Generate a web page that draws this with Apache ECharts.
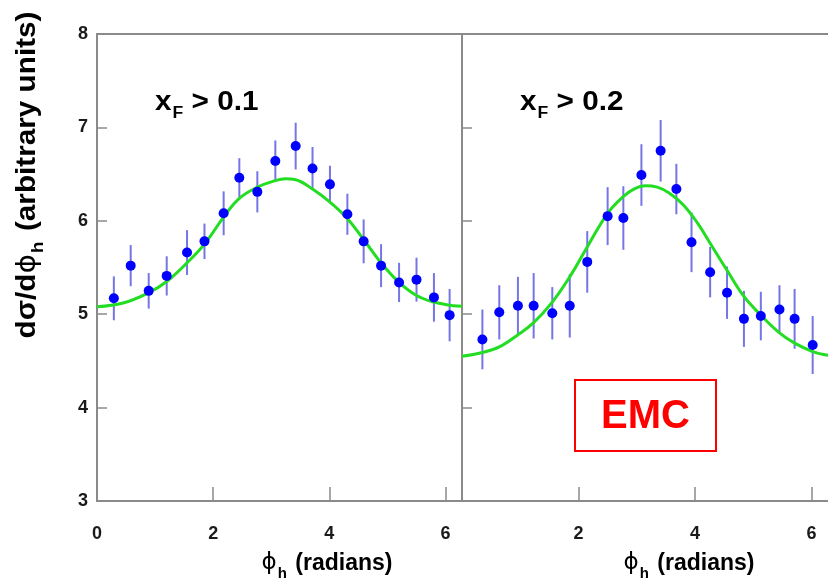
<!DOCTYPE html>
<html>
<head>
<meta charset="utf-8">
<script src="https://cdn.jsdelivr.net/npm/echarts@6/dist/echarts.min.js"></script>
<style>html,body{margin:0;padding:0;background:#fff}#c{width:828px;height:583px}</style>
</head>
<body>
<div id="c"></div>
<script>
// ---- data ----
const yTicks = [3, 4, 5, 6, 7, 8];
const xTicks = [0, 2, 4, 6];

const leftX   = [0.29,0.58,0.89,1.20,1.55,1.85,2.18,2.45,2.76,3.07,3.42,3.71,4.01,4.31,4.59,4.89,5.20,5.50,5.80,6.07];
const leftY   = [5.17,5.52,5.25,5.41,5.66,5.78,6.08,6.46,6.31,6.64,6.80,6.56,6.39,6.07,5.78,5.52,5.34,5.37,5.18,4.99];
const leftErr = [0.235,0.22,0.19,0.21,0.24,0.19,0.235,0.21,0.22,0.22,0.25,0.23,0.20,0.22,0.235,0.23,0.21,0.235,0.26,0.28];

const rightX   = [0.35,0.64,0.96,1.23,1.55,1.85,2.15,2.50,2.77,3.08,3.41,3.68,3.94,4.26,4.55,4.84,5.13,5.45,5.71,6.02];
const rightY   = [4.73,5.02,5.09,5.09,5.01,5.09,5.56,6.05,6.03,6.49,6.75,6.34,5.77,5.45,5.23,4.95,4.98,5.05,4.95,4.67];
const rightErr = [0.32,0.29,0.31,0.35,0.28,0.34,0.33,0.31,0.34,0.33,0.33,0.27,0.32,0.27,0.28,0.30,0.26,0.26,0.32,0.31];

const leftFitX = [0,0.45,0.89,1.20,1.55,1.85,2.18,2.45,2.76,3.07,3.24,3.42,3.71,4.01,4.30,4.59,4.89,5.20,5.50,5.80,6.14,6.2832];
const leftFitY = [5.08,5.12,5.23,5.35,5.55,5.75,6.04,6.24,6.36,6.43,6.45,6.44,6.34,6.20,6.03,5.80,5.55,5.34,5.20,5.13,5.09,5.085];

const rightFitX = [0,0.35,0.64,0.96,1.23,1.55,1.85,2.15,2.50,2.77,2.95,3.15,3.35,3.55,3.80,4.05,4.26,4.55,4.84,5.13,5.45,5.71,6.02,6.2832];
const rightFitY = [4.55,4.59,4.65,4.78,4.91,5.13,5.40,5.72,6.08,6.26,6.34,6.375,6.36,6.30,6.17,5.97,5.76,5.47,5.19,4.99,4.80,4.69,4.60,4.56];

const panelLabels = ['> 0.1', '> 0.2'];
// ---- end data ----

const FONT = '"Liberation Sans", Arial, sans-serif';
const AXIS = '#8a8a8a';
const TXT = '#1a1a1a';
const TWO_PI = 2 * Math.PI;

function pairs(xs, ys) { return xs.map((x, i) => [x, ys[i]]); }
function triples(xs, ys, es) { return xs.map((x, i) => [x, ys[i], es[i]]); }

function errorSeries(idx, data) {
  return {
    type: 'custom', xAxisIndex: idx, yAxisIndex: idx, data: data, z: 2, silent: true,
    encode: { x: 0, y: 1 },
    renderItem: function (params, api) {
      const x = api.value(0), y = api.value(1), e = api.value(2);
      const p1 = api.coord([x, y - e]);
      const p2 = api.coord([x, y + e]);
      return { type: 'line', shape: { x1: p1[0], y1: p1[1], x2: p2[0], y2: p2[1] },
               style: { stroke: '#7575e6', lineWidth: 2 } };
    }
  };
}

const lineStyleAxis = { color: AXIS, width: 2 };

function xAxis(idx, showMin, showLine) {
  return {
    type: 'value', gridIndex: idx, min: 0, max: TWO_PI, interval: 2, position: 'bottom',
    axisLine: { show: showLine, onZero: false, lineStyle: lineStyleAxis },
    axisTick: { show: true, inside: true, length: 14, lineStyle: { color: AXIS, width: 1.5 } },
    axisLabel: { show: true, margin: 24, showMinLabel: showMin, showMaxLabel: false,
      color: TXT, fontSize: 18, fontWeight: 'bold', fontFamily: FONT,
      formatter: v => xTicks.indexOf(v) >= 0 ? String(v) : '' },
    splitLine: { show: false }
  };
}
function topAxis(idx) {
  return {
    type: 'value', gridIndex: idx, min: 0, max: TWO_PI, position: 'top',
    axisLine: { show: true, onZero: false, lineStyle: lineStyleAxis },
    axisTick: { show: false }, axisLabel: { show: false }, splitLine: { show: false }
  };
}
function yAxis(idx, showLabels, showLine) {
  return {
    type: 'value', gridIndex: idx, min: yTicks[0], max: yTicks[yTicks.length - 1], interval: 1,
    axisLine: { show: showLine, onZero: false, lineStyle: lineStyleAxis },
    axisTick: { show: true, inside: true, length: 10, lineStyle: { color: AXIS, width: 1.5 } },
    axisLabel: { show: showLabels, margin: 9, color: TXT, fontSize: 18, fontWeight: 'bold', fontFamily: FONT },
    splitLine: { show: false }
  };
}

const chart = echarts.init(document.getElementById('c'), null, { renderer: 'canvas' });

const mainTok = { fontSize: 27, fontWeight: 'bold', fontFamily: FONT, color: TXT, lineHeight: 30, verticalAlign: 'top' };
const subTok = { fontSize: 16, fontWeight: 'bold', fontFamily: FONT, color: TXT, lineHeight: 16, verticalAlign: 'top', padding: [17, 0, 0, 1] };

const axTok = { fontSize: 23, fontWeight: 'bold', fontFamily: FONT, color: TXT, lineHeight: 26, verticalAlign: 'top' };
const axPhi = { fontSize: 23, fontWeight: 'normal', fontFamily: '"DejaVu Sans", ' + FONT, color: TXT, lineHeight: 26, verticalAlign: 'top' };
const axSub = { fontSize: 15, fontWeight: 'bold', fontFamily: FONT, color: TXT, lineHeight: 15, verticalAlign: 'top', padding: [14, 2, 0, 1] };

function xName(cx) {
  return { type: 'text', x: cx, y: 565, style: {
    text: '{p|ϕ}{s|h}{a| (radians)}', align: 'center', verticalAlign: 'middle',
    rich: { p: axPhi, s: axSub, a: axTok } } };
}
function panelLabel(x, txt) {
  return { type: 'text', x: x, y: 89, scaleX: 1.1, style: {
    text: '{m|x}{s|F}{m| ' + txt + '}', align: 'left', verticalAlign: 'top',
    rich: { m: mainTok, s: subTok } } };
}

const yTok = { fontSize: 27, fontWeight: 'bold', fontFamily: FONT, color: TXT, lineHeight: 30, verticalAlign: 'top' };
const yPhi = { fontSize: 27, fontWeight: 'normal', fontFamily: '"DejaVu Sans", ' + FONT, color: TXT, lineHeight: 30, verticalAlign: 'top' };
const ySub = { fontSize: 17, fontWeight: 'bold', fontFamily: FONT, color: TXT, lineHeight: 17, verticalAlign: 'top', padding: [16, 2, 0, 1] };

chart.setOption({
  animation: false,
  backgroundColor: '#ffffff',
  grid: [
    { left: 97, top: 34, width: 365, height: 467, show: true, borderColor: AXIS, borderWidth: 2, backgroundColor: 'transparent' },
    { left: 462, top: 34, width: 368.5, height: 467, show: false }
  ],
  xAxis: [xAxis(0, true, false), xAxis(1, false, true), topAxis(1)],
  yAxis: [yAxis(0, true, false), yAxis(1, false, true)],
  series: [
    errorSeries(0, triples(leftX, leftY, leftErr)),
    { type: 'line', xAxisIndex: 0, yAxisIndex: 0, data: pairs(leftFitX, leftFitY), smooth: 0.4, showSymbol: false, z: 3,
      lineStyle: { color: '#22dd22', width: 3 }, silent: true },
    { type: 'scatter', xAxisIndex: 0, yAxisIndex: 0, data: pairs(leftX, leftY), symbolSize: 10, z: 4,
      itemStyle: { color: '#0000ff', opacity: 1 }, silent: true },
    errorSeries(1, triples(rightX, rightY, rightErr)),
    { type: 'line', xAxisIndex: 1, yAxisIndex: 1, data: pairs(rightFitX, rightFitY), smooth: 0.4, showSymbol: false, z: 3,
      lineStyle: { color: '#22dd22', width: 3 }, silent: true },
    { type: 'scatter', xAxisIndex: 1, yAxisIndex: 1, data: pairs(rightX, rightY), symbolSize: 10, z: 4,
      itemStyle: { color: '#0000ff', opacity: 1 }, silent: true }
  ],
  graphic: [
    panelLabel(155, panelLabels[0]),
    panelLabel(520, panelLabels[1]),
    xName(327),
    xName(689),
    { type: 'text', x: 29, y: 175, rotation: Math.PI / 2, scaleX: 1.1, style: {
      text: '{a|dσ/d}{p|ϕ}{s|h}{a| (arbitrary units)}', align: 'center', verticalAlign: 'middle',
      rich: { a: yTok, p: yPhi, s: ySub } } },
    { type: 'rect', shape: { x: 575, y: 380, width: 141, height: 71 }, style: { fill: '#ffffff', stroke: '#ff0000', lineWidth: 2 } },
    { type: 'text', x: 645.5, y: 417, style: { text: 'EMC', align: 'center', verticalAlign: 'middle',
      fontSize: 40, fontWeight: 'bold', fontFamily: FONT, fill: '#ff0000' } }
  ]
});
</script>
</body>
</html>
